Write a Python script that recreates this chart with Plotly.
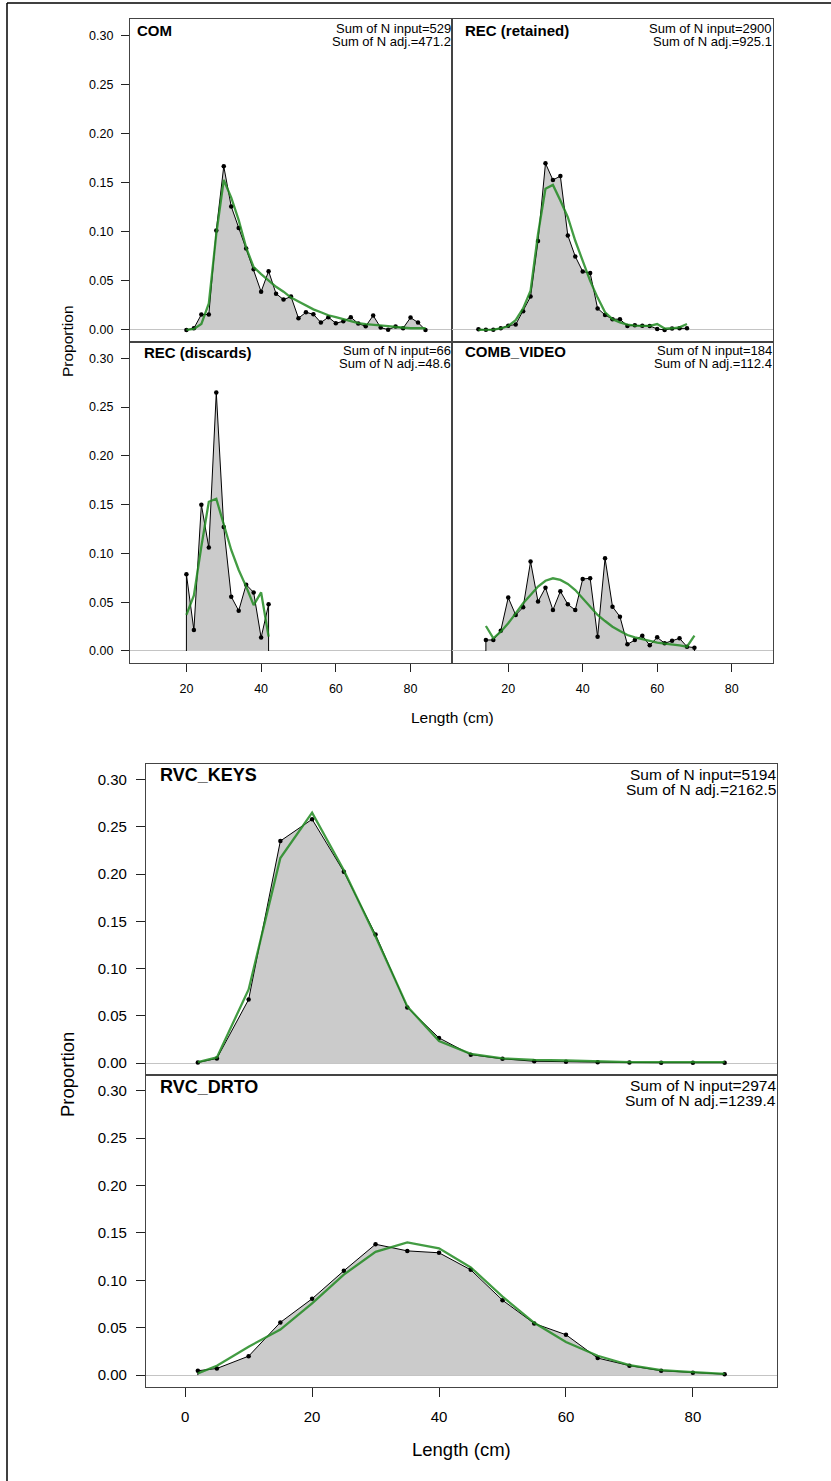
import plotly.graph_objects as go

W, H = 831, 1481

# ---------------- data ----------------
com_len = [20, 22, 24, 26, 28, 30, 32, 34, 36, 38, 40, 42, 44, 46, 48, 50, 52, 54, 56, 58, 60,
           62, 64, 66, 68, 70, 72, 74, 76, 78, 80, 82, 84]
com_obs = [0.000, 0.0017, 0.0157, 0.0157, 0.1016, 0.167, 0.126, 0.104, 0.083, 0.062, 0.039,
           0.060, 0.037, 0.031, 0.034, 0.012, 0.018, 0.016, 0.0075, 0.013, 0.0068, 0.0089,
           0.013, 0.0065, 0.0038, 0.0147, 0.0024, 0.0003, 0.0034, 0.0017, 0.0126, 0.0075, 0.000]
com_fit = [0.000, 0.001, 0.006, 0.027, 0.098, 0.153, 0.135, 0.112, 0.084, 0.064, 0.057,
           0.050, 0.044, 0.039, 0.033, 0.029, 0.025, 0.021, 0.018, 0.015, 0.013, 0.011,
           0.009, 0.007, 0.006, 0.0055, 0.005, 0.004, 0.003, 0.0023, 0.0017, 0.0017, 0.0017]

rec_len = [12, 14, 16, 18, 20, 22, 24, 26, 28, 30, 32, 34, 36, 38, 40, 42, 44, 46, 48, 50,
           52, 54, 56, 58, 60, 62, 64, 66, 68]
rec_obs = [0.0007, 0.0003, 0.0003, 0.0017, 0.0044, 0.0055, 0.019, 0.034, 0.0907, 0.170,
           0.153, 0.157, 0.0965, 0.075, 0.0597, 0.058, 0.022, 0.0153, 0.011, 0.011, 0.0041,
           0.0048, 0.0044, 0.0041, 0.001, 0.000, 0.0014, 0.0017, 0.0017]
rec_fit = [0.000, 0.000, 0.0003, 0.0015, 0.004, 0.010, 0.022, 0.040, 0.098, 0.144, 0.148,
           0.132, 0.115, 0.091, 0.071, 0.050, 0.033, 0.018, 0.011, 0.0078, 0.0055, 0.0044,
           0.0041, 0.0041, 0.006, 0.0014, 0.0017, 0.0027, 0.006]

dis_len = [20, 22, 24, 26, 28, 30, 32, 34, 36, 38, 40, 42]
dis_obs = [0.0786, 0.0215, 0.150, 0.106, 0.265, 0.127, 0.0557, 0.0413, 0.068, 0.060, 0.0137, 0.0478]
dis_fit = [0.037, 0.057, 0.107, 0.153, 0.156, 0.129, 0.1035, 0.083, 0.066, 0.047, 0.060, 0.0147]

vid_len = [14, 16, 18, 20, 22, 24, 26, 28, 30, 32, 34, 36, 38, 40, 42, 44, 46, 48, 50, 52,
           54, 56, 58, 60, 62, 64, 66, 68, 70]
vid_obs = [0.0113, 0.0113, 0.0208, 0.0547, 0.0369, 0.0448, 0.0916, 0.0506, 0.0649, 0.042,
           0.0612, 0.0478, 0.042, 0.0738, 0.0745, 0.0147, 0.095, 0.0454, 0.0352, 0.0068,
           0.0113, 0.0157, 0.0058, 0.014, 0.0079, 0.0106, 0.013, 0.0044, 0.0034]
vid_fit = [0.0256, 0.013, 0.0198, 0.0284, 0.0386, 0.0489, 0.0574, 0.066, 0.072, 0.0745,
           0.0728, 0.0687, 0.0625, 0.054, 0.0454, 0.0369, 0.0307, 0.0249, 0.0205, 0.0164,
           0.014, 0.012, 0.0102, 0.0085, 0.0075, 0.0068, 0.0058, 0.0044, 0.0157]

rvc_len = [2, 5, 10, 15, 20, 25, 30, 35, 40, 45, 50, 55, 60, 65, 70, 75, 80, 85]
keys_obs = [0.0007, 0.005, 0.0674, 0.235, 0.258, 0.2025, 0.136, 0.059, 0.0267, 0.009,
            0.0046, 0.002, 0.0014, 0.001, 0.0007, 0.0005, 0.0005, 0.0005]
keys_fit = [0.001, 0.006, 0.078, 0.217, 0.265, 0.204, 0.134, 0.060, 0.0235, 0.0098,
            0.005, 0.0035, 0.0028, 0.002, 0.001, 0.001, 0.001, 0.001]
drto_obs = [0.0046, 0.007, 0.020, 0.0556, 0.0805, 0.110, 0.138, 0.131, 0.129, 0.111,
            0.079, 0.0545, 0.0426, 0.018, 0.010, 0.0046, 0.0025, 0.001]
drto_fit = [0.0018, 0.0098, 0.030, 0.048, 0.0756, 0.106, 0.130, 0.140, 0.1337, 0.1136,
            0.0827, 0.0552, 0.035, 0.0204, 0.0106, 0.0053, 0.0032, 0.0014]

panel_names = ["COM", "REC (retained)", "REC (discards)", "COMB_VIDEO", "RVC_KEYS", "RVC_DRTO"]
n_input = ["529", "2900", "66", "184", "5194", "2974"]
n_adj = ["471.2", "925.1", "48.6", "112.4", "2162.5", "1239.4"]
y_ticks = [0.0, 0.05, 0.10, 0.15, 0.20, 0.25, 0.30]
x_ticks_top = [20, 40, 60, 80]
x_ticks_bottom = [0, 20, 40, 60, 80]

# ---------------- layout helpers ----------------
def fx(p):
    return p / W

def fy(p):
    return 1 - p / H

FONT = "Liberation Sans, Arial, sans-serif"
GREEN = "rgba(34,139,34,0.85)"
FRAME = "#444444"

# panel boxes in pixels: left, right, top, bottom
panels = [
    dict(lens=com_len, obs=com_obs, fit=com_fit, box=(130, 452, 19.3, 341.7), xr=(4.9, 91.1),
         yt=True, xt=False, big=False, lab=(135, 30.5), s1=28.3, s2=41.7),
    dict(lens=rec_len, obs=rec_obs, fit=rec_fit, box=(452, 773, 19.3, 341.7), xr=(4.9, 91.1),
         yt=False, xt=False, big=False, lab=(463.3, 30.7), s1=28.3, s2=41.7),
    dict(lens=dis_len, obs=dis_obs, fit=dis_fit, box=(130, 452, 341.7, 662.7), xr=(4.9, 91.1),
         yt=True, xt=True, big=False, lab=(141.7, 352.7), s1=350.7, s2=363.3),
    dict(lens=vid_len, obs=vid_obs, fit=vid_fit, box=(452, 773, 341.7, 662.7), xr=(4.9, 91.1),
         yt=False, xt=True, big=False, lab=(463.3, 351.7), s1=350.7, s2=363.3),
    dict(lens=rvc_len, obs=keys_obs, fit=keys_fit, box=(146, 777, 763.5, 1074.5), xr=(-6.17, 93.25),
         yt=True, xt=False, big=True, lab=(158, 775), s1=774, s2=789.3),
    dict(lens=rvc_len, obs=drto_obs, fit=drto_fit, box=(146, 777, 1074.5, 1386.5), xr=(-6.17, 93.25),
         yt=True, xt=True, big=True, lab=(158, 1086.7), s1=1085, s2=1100.7),
]

fig = go.Figure()
annotations = []
layout = dict(
    width=W, height=H,
    margin=dict(l=0, r=0, t=0, b=0),
    paper_bgcolor="white", plot_bgcolor="white",
    showlegend=False,
    font=dict(family=FONT, color="black"),
)

for i, p in enumerate(panels):
    k = i + 1
    xa = "x" if k == 1 else f"x{k}"
    ya = "y" if k == 1 else f"y{k}"
    l, r, t, b = p["box"]
    big = p["big"]
    tick_font = 15 if big else 12.5
    ticklen = 9 if big else 8

    lens, obs, fit = p["lens"], p["obs"], p["fit"]
    # shaded polygon of observed proportions
    fig.add_trace(go.Scatter(
        x=[lens[0]] + lens + [lens[-1]], y=[0] + obs + [0],
        mode="lines", fill="toself", fillcolor="#cbcbcb",
        line=dict(color="black", width=1), xaxis=xa, yaxis=ya, hoverinfo="skip"))
    fig.add_trace(go.Scatter(
        x=lens, y=obs, mode="markers",
        marker=dict(color="black", size=4.5), xaxis=xa, yaxis=ya, hoverinfo="skip"))
    fig.add_trace(go.Scatter(
        x=lens, y=fit, mode="lines",
        line=dict(color=GREEN, width=2.3), xaxis=xa, yaxis=ya, hoverinfo="skip"))

    xkey = "xaxis" if k == 1 else f"xaxis{k}"
    ykey = "yaxis" if k == 1 else f"yaxis{k}"
    layout[xkey] = dict(
        domain=[fx(l), fx(r)], anchor=ya, range=list(p["xr"]),
        showgrid=False, zeroline=False,
        showline=True, mirror=True, linecolor=FRAME, linewidth=1.2,
        tickmode="array",
        tickvals=(x_ticks_bottom if big else x_ticks_top) if p["xt"] else [],
        ticks="outside" if p["xt"] else "", ticklen=ticklen, tickcolor="#222", tickwidth=1,
        showticklabels=p["xt"], ticklabelstandoff=6 if not big else 7,
        tickfont=dict(size=tick_font, family=FONT, color="black"),
    )
    layout[ykey] = dict(
        domain=[fy(b), fy(t)], anchor=xa, range=[-0.012, 0.317],
        showgrid=False, zeroline=True, zerolinecolor="#c4c4c4", zerolinewidth=1,
        showline=True, mirror=True, linecolor=FRAME, linewidth=1.2,
        tickmode="array", tickvals=y_ticks if p["yt"] else [],
        tickformat=".2f",
        ticks="outside" if p["yt"] else "", ticklen=ticklen, tickcolor="#222", tickwidth=1,
        showticklabels=p["yt"], ticklabelstandoff=5 if not big else 6,
        tickfont=dict(size=tick_font, family=FONT, color="black"),
    )

    # panel title
    annotations.append(dict(
        x=fx(p["lab"][0]), y=fy(p["lab"][1]), xref="paper", yref="paper",
        xanchor="left", yanchor="middle", showarrow=False,
        text=f"<b>{panel_names[i]}</b>",
        font=dict(size=18 if big else 15, family=FONT, color="black")))
    # sums
    sfont = dict(size=15.5 if big else 13, family=FONT, color="black")
    annotations.append(dict(
        x=fx(r + 1), y=fy(p["s1"]), xref="paper", yref="paper",
        xanchor="right", yanchor="middle", showarrow=False,
        text=f"Sum of N input={n_input[i]}", font=sfont))
    annotations.append(dict(
        x=fx(r + 1), y=fy(p["s2"]), xref="paper", yref="paper",
        xanchor="right", yanchor="middle", showarrow=False,
        text=f"Sum of N adj.={n_adj[i]}", font=sfont))

# axis titles
for (xc, yc, size) in [(67, 341, 15.5), (67, 1075, 18.5)]:
    annotations.append(dict(
        x=fx(xc), y=fy(yc), xref="paper", yref="paper", textangle=-90,
        xanchor="center", yanchor="middle", showarrow=False, text="Proportion",
        font=dict(size=size, family=FONT, color="black")))
for (xc, yc, size) in [(452, 717, 15.5), (461, 1449, 18.5)]:
    annotations.append(dict(
        x=fx(xc), y=fy(yc), xref="paper", yref="paper",
        xanchor="center", yanchor="middle", showarrow=False, text="Length (cm)",
        font=dict(size=size, family=FONT, color="black")))

layout["annotations"] = annotations
layout["shapes"] = [
    dict(type="line", xref="paper", yref="paper", x0=fx(7), x1=1, y0=fy(3), y1=fy(3),
         line=dict(color="black", width=1.5)),
    dict(type="line", xref="paper", yref="paper", x0=fx(7), x1=fx(7), y0=fy(3), y1=0,
         line=dict(color="black", width=1.5)),
]

fig.update_layout(**layout)
fig.write_html("out.html")
